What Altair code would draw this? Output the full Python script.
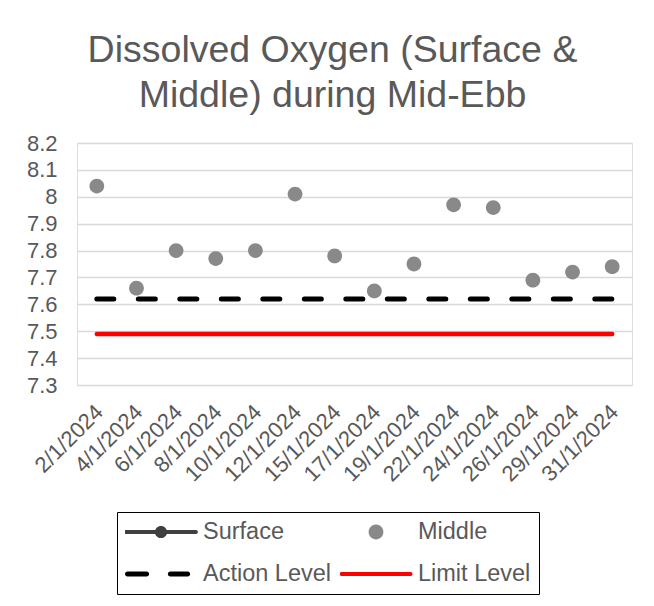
import altair as alt
import pandas as pd

# ---- data ----
dates = ["2/1/2024", "4/1/2024", "6/1/2024", "8/1/2024", "10/1/2024", "12/1/2024",
         "15/1/2024", "17/1/2024", "19/1/2024", "22/1/2024", "24/1/2024", "26/1/2024",
         "29/1/2024", "31/1/2024"]
middle_values = [8.04, 7.66, 7.80, 7.77, 7.80, 8.01, 7.78, 7.65, 7.75, 7.97, 7.96, 7.69, 7.72, 7.74]
action_level = 7.62
limit_level = 7.49
y_ticks = [7.3, 7.4, 7.5, 7.6, 7.7, 7.8, 7.9, 8.0, 8.1, 8.2]

series_names = ["Surface", "Middle", "Action Level", "Limit Level"]
series_colors = ["#404040", "#898989", "#000000", "#ff0000"]

FONT = "Liberation Sans"
TEXT = "#595959"


def bar(x1, x2, h):
    return (f"M{x1},{-h} L{x2},{-h} A{h},{h} 0 0 1 {x2},{h} "
            f"L{x1},{h} A{h},{h} 0 0 1 {x1},{-h} Z ")


def circle(r):
    return f"M{-r},0 A{r},{r} 0 1 1 {r},0 A{r},{r} 0 1 1 {-r},0 Z "


series_shapes = [
    bar(-0.97, 0.97, 0.055) + circle(0.17),
    circle(0.205),
    bar(-0.93, -0.4, 0.07) + bar(0.26, 0.74, 0.07),
    bar(-0.96, 0.96, 0.055),
]

points_df = pd.DataFrame({"date": dates, "value": middle_values, "series": "Middle"})
action_df = pd.DataFrame({"date": dates, "value": [action_level] * len(dates)})
limit_df = pd.DataFrame({"date": dates, "value": [limit_level] * len(dates)})

x_enc = alt.X(
    "date:N", sort=dates, title=None,
    scale=alt.Scale(type="point", padding=0.5),
    axis=alt.Axis(labelAngle=-45, labelFontSize=22, labelColor=TEXT, labelFont=FONT,
                  grid=False, domain=False, ticks=False, labelPadding=16, labelOffset=-5),
)
y_enc = alt.Y(
    "value:Q", title=None,
    scale=alt.Scale(domain=[7.3, 8.2], nice=False, zero=False),
    axis=alt.Axis(values=y_ticks, format=".1~f", labelFontSize=22, labelColor=TEXT,
                  labelFont=FONT, domain=False, ticks=False, labelPadding=20,
                  gridColor="#d9d9d9", gridWidth=1.3),
)

legend = alt.Legend(
    title=None, orient="none", legendX=40, legendY=369, columns=2, direction="horizontal",
    strokeColor="#000000", padding=8, fillColor="#ffffff",
    labelFontSize=23.5, labelColor=TEXT, labelFont=FONT, labelOffset=6,
    symbolSize=5184, symbolStrokeWidth=0, symbolOpacity=1, clipHeight=24,
    columnPadding=8, rowPadding=18,
)

limit_line = alt.Chart(limit_df).mark_line(
    color="#ff0000", strokeWidth=4.5, strokeCap="round"
).encode(x=x_enc, y=y_enc)

action_line = alt.Chart(action_df).mark_line(
    color="#000000", strokeWidth=5, strokeCap="round", strokeDash=[17, 24.5]
).encode(x=x_enc, y=y_enc)

points = alt.Chart(points_df).mark_point(
    filled=True, opacity=1, size=5184, strokeWidth=0
).encode(
    x=x_enc, y=y_enc,
    color=alt.Color("series:N", scale=alt.Scale(domain=series_names, range=series_colors),
                    legend=legend),
    shape=alt.Shape("series:N", scale=alt.Scale(domain=series_names, range=series_shapes),
                    legend=legend),
)

chart = alt.layer(limit_line, action_line, points).properties(
    width=555, height=242,
    title=alt.TitleParams(
        text=["Dissolved Oxygen (Surface &", "Middle) during Mid-Ebb"],
        fontSize=37.5, font=FONT, color=TEXT, fontWeight="normal",
        anchor="middle", lineHeight=45, offset=18, dx=-22,
    ),
    autosize=alt.AutoSizeParams(type="none"),
    padding={"left": 69, "top": 135, "right": 14, "bottom": 216},
).configure_view(stroke=None).configure(background="#ffffff")

chart.save("out.html", embed_options={"renderer": "svg", "actions": False})
